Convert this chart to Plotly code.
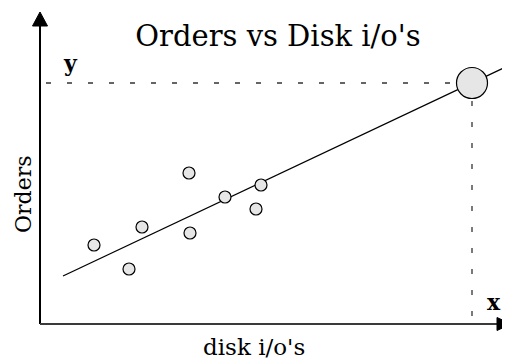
import plotly.graph_objects as go

# Observed data (disk i/o's vs orders), arbitrary units
disk_io = [54, 89, 102, 149, 150, 185, 216, 221]
orders = [79, 55, 97, 151, 91, 127, 115, 139]

# Regression line endpoints
fit_x = [23, 470]
fit_y = [48, 259]

# Predicted point
pred_x = [432]
pred_y = [241]

title_text = "Orders vs Disk i/o's"
x_title = "disk i/o's"
y_title = "Orders"

FONT = "DejaVu Serif"

# page body has an 8px margin; the figure fills the rest of the window
W, H = 502, 352

fig = go.Figure()

fig.add_trace(go.Scatter(
    x=fit_x, y=fit_y, mode="lines",
    line=dict(color="black", width=1.3), hoverinfo="skip"))

fig.add_trace(go.Scatter(
    x=disk_io, y=orders, mode="markers",
    marker=dict(size=12, color="#e6e6e6", line=dict(color="black", width=1.2))))

fig.add_trace(go.Scatter(
    x=pred_x, y=pred_y, mode="markers",
    marker=dict(size=31, color="#e6e6e6", line=dict(color="black", width=1.2))))

shapes = [
    # y axis
    dict(type="line", xref="x", yref="y", x0=0, y0=0, x1=0, y1=300,
         line=dict(color="black", width=2)),
    dict(type="path", xref="x", yref="y",
         path="M -7.5,298 L 7.5,298 L 0,312 Z", fillcolor="black",
         line=dict(color="black", width=1)),
    # x axis
    dict(type="line", xref="x", yref="y", x0=0, y0=0, x1=460, y1=0,
         line=dict(color="#3a3a3a", width=2)),
    dict(type="path", xref="x", yref="y",
         path="M 457,-6.5 L 457,6.5 L 471,0 Z", fillcolor="black",
         line=dict(color="black", width=1)),
    # dashed guides
    dict(type="line", xref="x", yref="y", x0=6, y0=pred_y[0], x1=pred_x[0] - 16, y1=pred_y[0],
         line=dict(color="#333333", width=1.3, dash="5px,16px")),
    dict(type="line", xref="x", yref="y", x0=pred_x[0], y0=pred_y[0] - 18, x1=pred_x[0], y1=0,
         line=dict(color="#333333", width=1.3, dash="5px,16px")),
]

annotations = [
    dict(x=30, y=261, xref="x", yref="y", text="<b>y</b>", showarrow=False,
         font=dict(family=FONT, size=22, color="black")),
    dict(x=454, y=22, xref="x", yref="y", text="<b>x</b>", showarrow=False,
         font=dict(family=FONT, size=22, color="black")),
    dict(x=214, y=-23, xref="x", yref="y", text=x_title, showarrow=False,
         font=dict(family=FONT, size=23, color="black")),
    dict(x=-17, y=129, xref="x", yref="y", text=y_title, showarrow=False,
         textangle=-90, font=dict(family=FONT, size=22, color="black")),
]

fig.update_layout(
    width=W, height=H, autosize=False,
    margin=dict(l=0, r=0, t=0, b=0, pad=0),
    paper_bgcolor="white", plot_bgcolor="white",
    showlegend=False,
    title=dict(text=title_text, x=(278 - 8) / W, xanchor="center",
               y=1 - (36 - 8) / H, yanchor="middle",
               font=dict(family=FONT, size=29, color="black")),
    xaxis=dict(range=[-32, 470], visible=False, fixedrange=True),
    yaxis=dict(range=[-36, 316], visible=False, fixedrange=True),
    shapes=shapes,
    annotations=annotations,
)

fig.write_html("out.html")
